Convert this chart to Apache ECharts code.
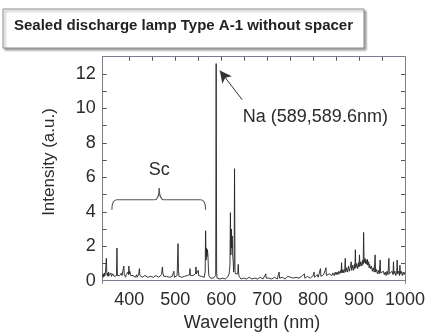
<!DOCTYPE html>
<html>
<head>
<meta charset="utf-8">
<script src="https://cdn.jsdelivr.net/npm/echarts@6/dist/echarts.min.js"></script>
<style>
html,body{margin:0;padding:0;background:#fff;}
#chart{width:428px;height:332px;}
</style>
</head>
<body>
<div id="chart"></div>
<script>
// ---- data ----
const titleText = 'Sealed discharge lamp Type A-1 without spacer';
const xName = 'Wavelength (nm)';
const yName = 'Intensity (a.u.)';
const xTickLabels = [400, 500, 600, 700, 800, 900, 1000];
const xMinorTicks = [400, 450, 500, 550, 600, 650, 700, 750, 800, 850, 900, 950];
const yTickLabels = [0, 2, 4, 6, 8, 10, 12];
const yMinorTicks = [1, 2, 3, 4, 5, 6, 7, 8, 9, 10, 11, 12];

// Sc region (342-580 nm)
const scSpectrum = [
  [342,0.35],[343,0.2],[344,0.4],[345,0.25],[346,0.45],[347,0.3],[348,0.5],[349,0.4],[350,1.3],[351,0.45],
  [352,0.3],[353,0.45],[354,0.25],[355,0.5],[356,0.3],[357,0.4],[358,0.2],[359,0.35],[360,0.45],[361,0.25],
  [362,0.35],[363,0.2],[364,0.4],[365,0.3],[366,0.45],[367,0.25],[368,0.35],[369,0.2],[370,0.35],[371,0.25],
  [372,0.3],[373,1.9],[374,0.3],[375,0.4],[376,0.2],[377,0.35],[378,0.25],[379,0.3],[380,0.2],[381,0.35],
  [382,0.25],[383,0.45],[384,0.3],[385,0.4],[386,0.25],[387,0.4],[388,0.85],[389,0.35],[390,0.25],[391,0.4],
  [392,0.2],[393,0.35],[394,0.25],[395,0.45],[396,0.3],[397,0.5],[398,0.35],[399,0.85],[400,0.4],[401,0.55],
  [402,0.6],[403,0.3],[404,0.4],[405,0.2],[406,0.35],[407,0.25],[408,0.3],[409,0.2],[410,0.3],[411,0.25],
  [412,0.35],[413,0.2],[414,0.3],[415,0.25],[416,0.35],[417,0.2],[418,0.3],[419,0.25],[420,0.35],[421,0.3],
  [422,0.7],[423,0.3],[424,0.2],[425,0.25],[426,0.2],[427,0.3],[428,0.2],[430,0.25],[432,0.2],[434,0.3],
  [436,0.2],[438,0.25],[440,0.2],[442,0.3],[444,0.2],[446,0.25],[448,0.2],[450,0.3],[452,0.2],[454,0.25],
  [456,0.2],[458,0.3],[460,0.2],[462,0.25],[464,0.2],[466,0.3],[468,0.25],[470,0.35],[471,0.45],[472,0.8],
  [473,0.45],[474,0.35],[475,0.25],[477,0.3],[479,0.2],[481,0.25],[483,0.2],[485,0.25],[487,0.2],[489,0.3],
  [491,0.2],[493,0.25],[495,0.3],[496,0.35],[497,0.55],[498,0.2],[500,0.25],[502,0.2],[504,0.3],[505,0.4],
  [506,2.15],[507,0.6],[508,0.25],[510,0.2],[512,0.25],[514,0.2],[516,0.25],[518,0.2],[520,0.25],[522,0.2],
  [524,0.25],[526,0.3],[528,0.2],[530,0.3],[531,0.35],[532,0.7],[533,0.3],[535,0.25],[537,0.2],[539,0.3],
  [541,0.25],[543,0.35],[544,0.4],[545,0.8],[546,0.4],[547,0.3],[548,0.35],[549,0.4],[550,0.6],[551,0.3],
  [553,0.25],[555,0.2],[557,0.25],[559,0.2],[561,0.25],[563,0.2],[564,0.3],[565,0.5],[566,2.9],[567,1.2],
  [568,1.9],[569,1.4],[570,1.8],[571,1.5],[572,0.8],[573,0.3],[575,0.2],[577,0.15],[579,0.2]
];

// Na and Li region (580-640 nm)
const naSpectrum = [
  [581,0.1],[583,0.15],[585,0.1],[587,0.15],[588,0.3],[589,12.6],[590,0.5],[591,0.15],[593,0.1],[595,0.15],
  [597,0.1],[599,0.15],[601,0.1],[603,0.15],[605,0.1],[607,0.15],[609,0.1],[611,0.15],[613,0.2],[615,0.25],
  [617,0.4],[618,0.6],[619,0.9],[620,3.95],[621,1.5],[622,3.0],[623,1.9],[624,2.6],[625,1.4],[626,1.2],
  [627,0.5],[628,0.9],[629,6.5],[630,0.6],[631,0.4],[632,0.3],[633,0.35],[634,0.3],[635,0.5],[636,0.4],
  [637,0.95],[638,0.4],[639,0.25]
];

// red / near-IR region (640-1000 nm)
const nirSpectrum = [
  [641,0.2],[643,0.1],[645,0.2],[647,0.1],[649,0.15],[651,0.1],[653,0.2],[655,0.1],[657,0.15],[659,0.1],
  [661,0.2],[663,0.1],[665,0.15],[667,0.1],[669,0.2],[671,0.1],[673,0.15],[675,0.1],[677,0.2],[679,0.1],
  [681,0.15],[683,0.1],[685,0.2],[687,0.1],[689,0.15],[691,0.1],[693,0.2],[695,0.15],[697,0.4],[698,0.15],
  [700,0.2],[702,0.1],[704,0.15],[706,0.1],[708,0.2],[710,0.1],[712,0.15],[714,0.1],[716,0.2],[718,0.15],
  [720,0.25],[722,0.1],[724,0.2],[726,0.5],[727,0.15],[729,0.2],[731,0.1],[733,0.2],[735,0.15],[737,0.25],
  [739,0.1],[741,0.2],[743,0.15],[745,0.25],[747,0.2],[748,0.35],[749,0.15],[751,0.2],[753,0.1],[755,0.2],
  [757,0.15],[759,0.25],[761,0.1],[763,0.2],[765,0.15],[767,0.25],[769,0.15],[771,0.2],[773,0.1],[775,0.25],
  [777,0.15],[779,0.2],[781,0.4],[782,0.15],[784,0.25],[786,0.15],[788,0.25],[790,0.2],[792,0.3],[794,0.15],
  [796,0.25],[798,0.2],[800,0.3],[802,0.5],[803,0.2],[805,0.3],[807,0.2],[809,0.35],[811,0.2],[813,0.3],
  [815,0.25],[816,0.7],[817,0.25],[819,0.35],[821,0.2],[823,0.35],[825,0.25],[827,0.3],[828,0.75],[829,0.3],
  [831,0.4],[833,0.25],[835,0.4],[837,0.3],[839,0.45],[841,0.3],[843,0.45],[845,0.55],[846,0.3],[848,0.5],
  [850,0.35],[852,0.5],[854,0.35],[856,0.55],[858,0.4],[860,0.6],[861,0.45],[862,1.05],[863,0.45],[865,0.65],
  [867,0.45],[869,0.7],[870,1.3],[871,0.5],[873,0.75],[875,0.5],[877,0.85],[879,0.55],[881,0.8],[883,1.1],
  [884,0.6],[886,0.9],[888,0.6],[890,0.95],[891,0.7],[892,1.8],[893,0.75],[895,1.0],[897,0.7],[899,1.05],
  [900,0.8],[901,1.5],[902,0.85],[904,1.1],[906,0.85],[908,1.2],[909,0.95],[910,2.8],[911,1.05],[913,1.3],
  [914,1.0],[915,1.2],[917,0.95],[918,1.25],[919,0.9],[921,1.1],[922,0.75],[923,0.95],[925,0.7],[927,0.85],
  [929,0.55],[931,0.75],[933,0.5],[935,1.5],[936,0.5],[938,0.65],[940,0.4],[942,0.6],[944,0.4],[946,1.2],
  [947,0.45],[949,0.55],[951,0.35],[953,0.55],[955,0.35],[957,0.5],[959,0.3],[961,0.55],[963,0.35],[965,1.3],
  [966,0.4],[968,0.5],[970,0.3],[972,0.55],[974,0.35],[975,1.1],[976,0.4],[978,0.55],[980,0.3],[982,0.5],
  [983,1.2],[984,0.4],[986,0.55],[988,0.3],[989,0.9],[990,0.4],[992,0.55],[994,0.3],[996,0.5],[998,0.35],[1000,0.5]
];

// annotation anchors in data coordinates
const naLabel = 'Na (589,589.6nm)';
const naLabelPos = [647, 9.5];
const naArrow = [[645.7, 10.5], [596.9, 12.2]];
const scLabel = 'Sc';
const scLabelPos = [465, 6.43];
const scBrace = { x1: 362, xm: 465, x2: 566, yEnd: 4.12, yBar: 4.7, yPeak: 5.37 };

// ---- chart ----
const spectrum = scSpectrum.concat(naSpectrum, nirSpectrum);
const chart = echarts.init(document.getElementById('chart'), null, { renderer: 'canvas' });
const axisColor = '#7d7b8c';
const textColor = '#2b2b2b';
const font = 'Liberation Sans, Arial, Helvetica, sans-serif';
const X_MIN = 342, X_MAX = 1000, Y_MIN = -0.15, Y_MAX = 13;

const option = {
  animation: false,
  backgroundColor: '#fff',
  grid: { left: 102.7, top: 56.7, right: 22.3, bottom: 48.7, show: false },
  xAxis: [
    {
      type: 'value', min: X_MIN, max: X_MAX, position: 'bottom',
      axisLine: { show: true, lineStyle: { color: axisColor, width: 1 } },
      axisTick: { show: false },
      splitLine: { show: false },
      axisLabel: { customValues: xTickLabels, formatter: v => String(v), color: textColor, fontSize: 18, fontFamily: font, margin: 8 }
    },
    {
      type: 'value', min: X_MIN, max: X_MAX, position: 'top',
      axisLine: { show: true, onZero: false, lineStyle: { color: axisColor, width: 1 } },
      axisTick: { show: true, inside: true, length: 4, customValues: xMinorTicks, lineStyle: { color: '#555' } },
      splitLine: { show: false },
      axisLabel: { show: false }
    }
  ],
  yAxis: [
    {
      type: 'value', min: Y_MIN, max: Y_MAX, position: 'left',
      axisLine: { show: true, onZero: false, lineStyle: { color: axisColor, width: 1 } },
      axisTick: { show: true, inside: true, length: 4, customValues: yMinorTicks, lineStyle: { color: '#555' } },
      splitLine: { show: false },
      axisLabel: { customValues: yTickLabels, color: textColor, fontSize: 18, fontFamily: font, margin: 7 }
    },
    {
      type: 'value', min: Y_MIN, max: Y_MAX, position: 'right',
      axisLine: { show: true, onZero: false, lineStyle: { color: axisColor, width: 1 } },
      axisTick: { show: true, inside: true, length: 4, customValues: yMinorTicks, lineStyle: { color: '#555' } },
      splitLine: { show: false },
      axisLabel: { show: false }
    }
  ],
  series: [
    {
      type: 'line', xAxisIndex: 0, yAxisIndex: 0,
      data: spectrum, showSymbol: false, symbol: 'none',
      lineStyle: { color: '#222', width: 0.9 },
      clip: true,
      markLine: {
        silent: true, animation: false,
        label: { show: false },
        lineStyle: { color: '#333', width: 1, type: 'solid' },
        symbolSize: [9, 12],
        data: [[
          { coord: naArrow[0], symbol: 'none' },
          { coord: naArrow[1], symbol: 'arrow' }
        ]]
      }
    }
  ]
};
chart.setOption(option);

function px(p) { return chart.convertToPixel({ xAxisIndex: 0, yAxisIndex: 0 }, p); }
const b = scBrace;
const pL = px([b.x1, b.yEnd]), pLb = px([b.x1, b.yBar]);
const pM = px([b.xm, b.yPeak]), pMb = px([b.xm, b.yBar]);
const pR = px([b.x2, b.yEnd]), pRb = px([b.x2, b.yBar]);
const r = 5;
const braceStyle = { stroke: '#555', lineWidth: 1.2, fill: null };
const braceParts = [
  { type: 'bezierCurve', shape: { x1: pL[0], y1: pL[1], cpx1: pL[0], cpy1: pLb[1], x2: pL[0] + r, y2: pLb[1] }, style: braceStyle },
  { type: 'line', shape: { x1: pL[0] + r, y1: pLb[1], x2: pMb[0] - r, y2: pMb[1] }, style: braceStyle },
  { type: 'bezierCurve', shape: { x1: pMb[0] - r, y1: pMb[1], cpx1: pM[0], cpy1: pMb[1], x2: pM[0], y2: pM[1] }, style: braceStyle },
  { type: 'bezierCurve', shape: { x1: pM[0], y1: pM[1], cpx1: pM[0], cpy1: pMb[1], x2: pMb[0] + r, y2: pMb[1] }, style: braceStyle },
  { type: 'line', shape: { x1: pMb[0] + r, y1: pMb[1], x2: pR[0] - r, y2: pRb[1] }, style: braceStyle },
  { type: 'bezierCurve', shape: { x1: pR[0] - r, y1: pRb[1], cpx1: pR[0], cpy1: pRb[1], x2: pR[0], y2: pR[1] }, style: braceStyle }
];
const naP = px(naLabelPos);
const scP = px(scLabelPos);

chart.setOption({
  graphic: [
    {
      type: 'rect', shape: { x: 3, y: 9, width: 361, height: 39 },
      style: { fill: '#fff', stroke: '#8a8a8a', lineWidth: 1,
        shadowColor: 'rgba(0,0,0,0.35)', shadowBlur: 2, shadowOffsetX: 2, shadowOffsetY: 2 }
    },
    {
      type: 'text', x: 183.5, y: 25.5,
      style: { text: titleText, fill: '#222', font: 'bold 15px ' + font, align: 'center', verticalAlign: 'middle' }
    },
    {
      type: 'text', x: 252, y: 323,
      style: { text: xName, fill: textColor, font: '18px ' + font, align: 'center', verticalAlign: 'middle' }
    },
    {
      type: 'text', x: 49, y: 162, rotation: Math.PI / 2,
      style: { text: yName, fill: textColor, font: '17px ' + font, align: 'center', verticalAlign: 'middle' }
    },
    {
      type: 'text', x: naP[0], y: naP[1],
      style: { text: naLabel, fill: textColor, font: '18px ' + font, align: 'left', verticalAlign: 'middle' }
    },
    {
      type: 'text', x: scP[0], y: scP[1],
      style: { text: scLabel, fill: textColor, font: '18px ' + font, align: 'center', verticalAlign: 'middle' }
    }
  ].concat(braceParts)
});
</script>
</body>
</html>
